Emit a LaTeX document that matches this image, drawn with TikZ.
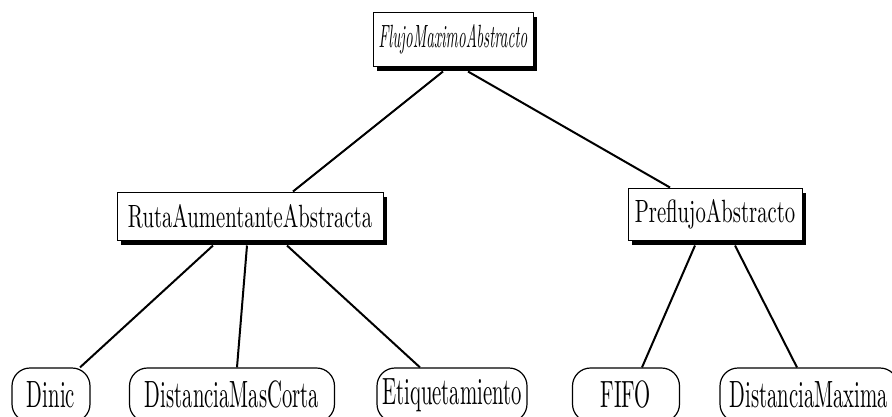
\documentclass[tikz,border=0pt]{standalone}
\usepackage{graphicx}
\usetikzlibrary{shadows}

% texto a 10pt, ensanchado y estirado
\newcommand{\rot}[3]{\scalebox{#1}[#2]{#3}}

\begin{document}
\begin{tikzpicture}[x=1pt,y=-1pt,
    caja/.style={draw,line width=1pt,fill=white,inner sep=0pt,
      drop shadow={shadow xshift=4pt,shadow yshift=-5pt,fill=black,opacity=1},
      font=\fontsize{10}{12}\selectfont},
    hoja/.style={draw,line width=1.2pt,rounded corners=18pt,inner sep=0pt,
      minimum height=54pt,font=\fontsize{10}{12}\selectfont},
    rama/.style={line width=2pt}]
    \clip (0,0) rectangle (892,416);
    % clases abstractas
    \node[caja,minimum width=160pt,minimum height=54pt] (raiz) at (453,39)
      {\rot{1.51}{3.22}{\itshape FlujoMaximoAbstracto}};
    \node[caja,minimum width=266pt,minimum height=48pt] (ruta) at (250,216)
      {\rot{2.07}{3.22}{RutaAumentanteAbstracta}};
    \node[caja,minimum width=174pt,minimum height=52pt] (preflujo) at (715,214)
      {\rot{2.07}{3.22}{PreflujoAbstracto}};
    % clases concretas
    \node[hoja,minimum width=78pt] (dinic) at (51,395) {\rot{2.07}{3.8}{Dinic}};
    \node[hoja,minimum width=205pt] (corta) at (232,395) {\rot{2.07}{3.8}{DistanciaMasCorta}};
    \node[hoja,minimum width=150pt] (etiq) at (452,395) {\rot{2.07}{3.8}{Etiquetamiento}};
    \node[hoja,minimum width=107pt] (fifo) at (626,395) {\rot{2.07}{3.8}{FIFO}};
    \node[hoja,minimum width=178pt] (maxima) at (809,395) {\rot{2.07}{3.8}{DistanciaMaxima}};
    % herencia
    \draw[rama] ([xshift=-10pt,yshift=-5pt]raiz.south) -- ([xshift=43pt]ruta.north);
    \draw[rama] ([xshift=15pt,yshift=-5pt]raiz.south) -- ([xshift=-45pt]preflujo.north);
    \draw[rama] ([xshift=-37pt,yshift=-5pt]ruta.south) -- ([xshift=29pt]dinic.north);
    \draw[rama] ([xshift=-3pt,yshift=-5pt]ruta.south) -- ([xshift=5pt]corta.north);
    \draw[rama] ([xshift=37pt,yshift=-5pt]ruta.south) -- ([xshift=-32pt]etiq.north);
    \draw[rama] ([xshift=-20pt,yshift=-5pt]preflujo.south) -- ([xshift=16pt]fifo.north);
    \draw[rama] ([xshift=20pt,yshift=-5pt]preflujo.south) -- ([xshift=-12pt]maxima.north);
\end{tikzpicture}
\end{document}
